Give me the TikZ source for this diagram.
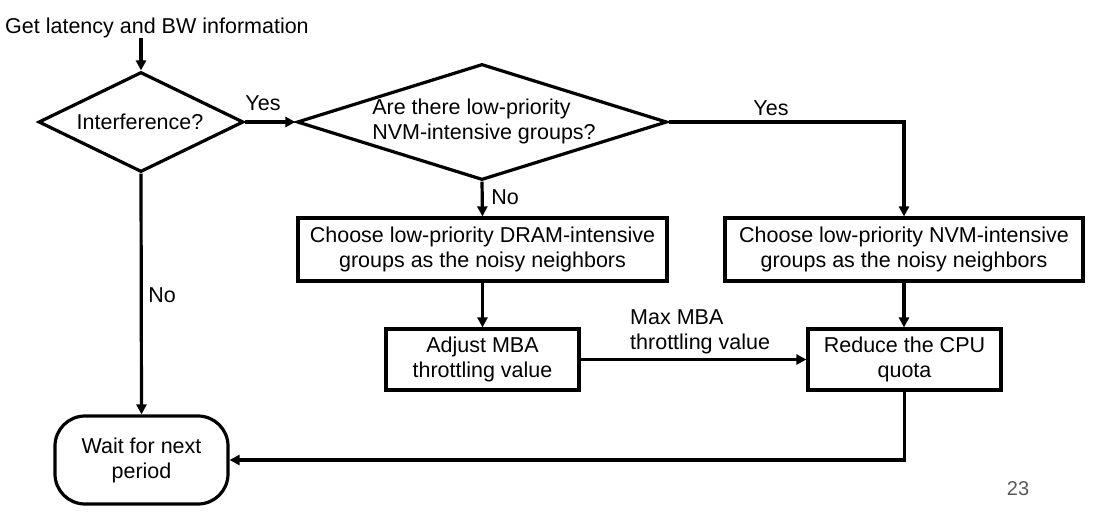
\documentclass[tikz,border=0pt]{standalone}
\usepackage{fontspec}
\setmainfont{Liberation Sans}
\usetikzlibrary{arrows.meta,shapes.geometric}
\tikzset{
  base/.style={font=\fontsize{21.5}{25}\selectfont},
  proc/.style={base,draw,line width=3.2pt,rectangle,inner sep=0pt,align=center},
  dec/.style={draw,line width=3.2pt,diamond,inner sep=0pt},
  term/.style={base,draw,line width=3.2pt,rectangle,rounded corners=30pt,inner sep=0pt,align=center},
  lbl/.style={base,inner sep=0pt},
  conn/.style={line width=3.2pt},
  arr/.style={conn,-{Triangle[length=10pt,width=10pt]}}
}
\begin{document}
\begin{tikzpicture}[x=1pt,y=-1pt]
\useasboundingbox (0,0) rectangle (1093,512);
% nodes
\node[lbl,anchor=west] (title) at (5,28) {Get latency and BW information};
\node[dec,minimum width=205pt,minimum height=100pt] (d1) at (141,122) {};
\node[lbl] (d1t) at (140,122) {Interference?};
\node[dec,minimum width=370pt,minimum height=116pt] (d2) at (482,122) {};
\node[lbl,align=left] (d2t) at (484,121) {Are there low-priority\\NVM-intensive groups?};
\node[proc,minimum width=369pt,minimum height=63pt] (dram) at (482.5,249.5) {Choose low-priority DRAM-intensive\\groups as the noisy neighbors};
\node[proc,minimum width=358pt,minimum height=63pt] (nvm) at (904,249.5) {Choose low-priority NVM-intensive\\groups as the noisy neighbors};
\node[proc,minimum width=193pt,minimum height=61pt] (adj) at (482.5,359.5) {Adjust MBA\\throttling value};
\node[proc,minimum width=193pt,minimum height=61pt] (red) at (904.5,359.5) {Reduce the CPU\\quota};
\node[term,minimum width=173pt,minimum height=88pt] (wait) at (141.5,460) {Wait for next\\period};
% labels
\node[lbl] (yes1) at (263,103) {Yes};
\node[lbl] (no1) at (162,295) {No};
\node[lbl] (no2) at (505,197) {No};
\node[lbl] (yes2) at (771,108) {Yes};
\node[lbl,align=left,anchor=west] (maxl) at (630,332) {Max MBA\\throttling value};
\node[font=\fontsize{20}{24}\selectfont,text=black!65,inner sep=0pt] (pg) at (1018,489) {23};
% connectors
\draw[arr] (title.south -| d1.north) -- (d1.north);
\draw[arr] (d1.east) -- (d2.west);
\draw[arr] (d1.south) -- (wait.north);
\draw[arr] (d2.south) -- (dram.north);
\draw[arr] (d2.east) -- (nvm.north |- d2.east) -- (nvm.north);
\draw[arr] (dram.south) -- (adj.north);
\draw[arr] (adj.east) -- (red.west);
\draw[arr] (nvm.south) -- (nvm.south |- red.north);
\draw[arr] (red.south) -- (red.south |- wait.east) -- (wait.east);
\end{tikzpicture}
\end{document}
